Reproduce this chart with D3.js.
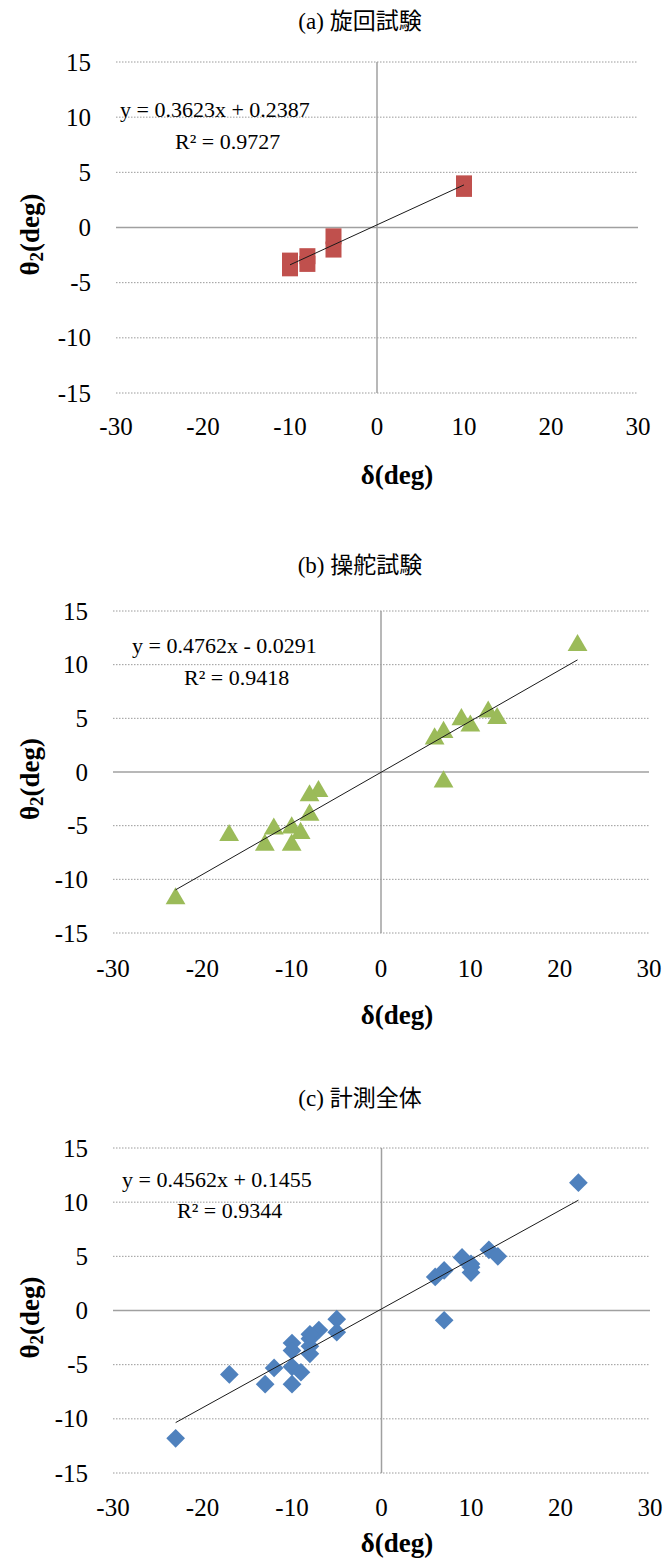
<!DOCTYPE html>
<html>
<head>
<meta charset="utf-8">
<script src="https://cdn.jsdelivr.net/npm/d3@7"></script>
<style>
  body { margin: 0; background: #fff; }
  text { font-family: "Liberation Serif", "Noto Sans CJK JP", serif; fill: #000; }
</style>
</head>
<body>
<div id="chart"></div>
<script>
// Data:
// (a) turning test
var turnDelta = [-10, -10, -8, -8, -5, -5, 10, 10];
var turnTheta = [-3.0, -3.7, -2.6, -3.3, -0.8, -2.0, 4.0, 3.5];
// (b) steering test
var helmDelta = [22, 9, 10, 12, 13, 7, 6, 7, -7, -8, -8, -10, -9, -12, -13, -10, -17, -23];
var helmTheta = [11.8, 4.9, 4.3, 5.6, 5.0, 3.7, 3.1, -0.9, -1.8, -2.2, -4.0, -5.2, -5.7, -5.3, -6.8, -6.8, -5.9, -11.8];
// (c) all measurements = (a) + (b)
var allDelta = turnDelta.concat(helmDelta);
var allTheta = turnTheta.concat(helmTheta);

var panelTitles = ["(a) 旋回試験", "(b) 操舵試験", "(c) 計測全体"];
var fitSlope = [0.3623, 0.4762, 0.4562];
var fitIntercept = [0.2387, -0.0291, 0.1455];
var fitEquation = ["y = 0.3623x + 0.2387", "y = 0.4762x - 0.0291", "y = 0.4562x + 0.1455"];
var fitR2 = ["R² = 0.9727", "R² = 0.9418", "R² = 0.9344"];
var xTicks = [-30, -20, -10, 0, 10, 20, 30];
var yTicks = [-15, -10, -5, 0, 5, 10, 15];

// Layout of the three panels (pixels)
var panels = [
  { delta: turnDelta, theta: turnTheta, marker: "square", color: "#C0504D",
    left: 116, right: 638, top: 62, bottom: 393, titleY: 21, tickY: 426, xTitleY: 475,
    eq: [120, 117], r2: [175, 149] },
  { delta: helmDelta, theta: helmTheta, marker: "triangle", color: "#9BBB59",
    left: 113, right: 649, top: 611, bottom: 933, titleY: 565, tickY: 968, xTitleY: 1015,
    eq: [132, 653], r2: [184, 685] },
  { delta: allDelta, theta: allTheta, marker: "diamond", color: "#4F81BD",
    left: 113, right: 650, top: 1148, bottom: 1473, titleY: 1098, tickY: 1507, xTitleY: 1543,
    eq: [122, 1187], r2: [177, 1218] }
];

var fmt = function(d) { return d < 0 ? "-" + Math.abs(d) : "" + d; };

var svg = d3.select("#chart").append("svg")
  .attr("width", 667)
  .attr("height", 1560)
  .style("background", "#fff");

panels.forEach(function(p, k) {
  var x = d3.scaleLinear().domain([-30, 30]).range([p.left, p.right]);
  var y = d3.scaleLinear().domain([-15, 15]).range([p.bottom, p.top]);
  var g = svg.append("g");

  // Title
  g.append("text")
    .attr("x", 360).attr("y", p.titleY)
    .attr("text-anchor", "middle").attr("dominant-baseline", "central")
    .style("font-size", "23px")
    .text(panelTitles[k]);

  // Horizontal gridlines (dotted), zero line solid
  g.selectAll("line.grid")
    .data(yTicks)
    .enter().append("line")
    .attr("class", "grid")
    .attr("x1", p.left).attr("x2", p.right)
    .attr("y1", function(d) { return y(d); })
    .attr("y2", function(d) { return y(d); })
    .attr("stroke", function(d) { return d === 0 ? "#a0a0a0" : "#9a9a9a"; })
    .attr("stroke-width", function(d) { return d === 0 ? 1.5 : 1; })
    .attr("stroke-dasharray", function(d) { return d === 0 ? null : "1.5,1.5"; });

  // Vertical axis at delta = 0
  g.append("line")
    .attr("x1", x(0)).attr("x2", x(0))
    .attr("y1", y(15)).attr("y2", y(-15))
    .attr("stroke", "#a0a0a0").attr("stroke-width", 1.5);

  // Tick labels
  g.selectAll("text.ytick")
    .data(yTicks)
    .enter().append("text")
    .attr("class", "ytick")
    .attr("x", p.left - 25)
    .attr("y", function(d) { return y(d); })
    .attr("text-anchor", "end").attr("dominant-baseline", "central")
    .style("font-size", "25px")
    .text(fmt);

  g.selectAll("text.xtick")
    .data(xTicks)
    .enter().append("text")
    .attr("class", "xtick")
    .attr("x", function(d) { return x(d); })
    .attr("y", p.tickY)
    .attr("text-anchor", "middle").attr("dominant-baseline", "central")
    .style("font-size", "25px")
    .text(fmt);

  // Axis titles
  g.append("text")
    .attr("x", 397).attr("y", p.xTitleY)
    .attr("text-anchor", "middle").attr("dominant-baseline", "central")
    .style("font-size", "27px").style("font-weight", "bold")
    .text("δ(deg)");

  var yt = g.append("text")
    .attr("transform", "translate(30," + ((p.top + p.bottom) / 2 + 7) + ") rotate(-90)")
    .attr("text-anchor", "middle").attr("dominant-baseline", "central")
    .style("font-size", "27px").style("font-weight", "bold");
  yt.append("tspan").text("θ");
  yt.append("tspan").attr("dy", 6).style("font-size", "19px").text("2");
  yt.append("tspan").attr("dy", -6).text("(deg)");

  // Markers
  var pts = p.delta.map(function(d, i) { return [d, p.theta[i]]; });
  var sym = p.marker === "triangle" ? d3.symbol().type(d3.symbolTriangle).size(170)
          : p.marker === "diamond" ? d3.symbol().type(d3.symbolSquare).size(175)
          : d3.symbol().type(d3.symbolSquare).size(256);
  g.selectAll("path.pt")
    .data(pts)
    .enter().append("path")
    .attr("class", "pt")
    .attr("d", sym)
    .attr("fill", p.color)
    .attr("transform", function(d) {
      return "translate(" + x(d[0]) + "," + y(d[1]) + ")" + (p.marker === "diamond" ? " rotate(45)" : "");
    });

  // Linear trendline over the data range
  var xMin = d3.min(p.delta), xMax = d3.max(p.delta);
  var fit = function(v) { return fitSlope[k] * v + fitIntercept[k]; };
  g.append("line")
    .attr("x1", x(xMin)).attr("y1", y(fit(xMin)))
    .attr("x2", x(xMax)).attr("y2", y(fit(xMax)))
    .attr("stroke", "#1a1a1a").attr("stroke-width", 1);

  // Trendline label
  g.append("text")
    .attr("x", p.eq[0]).attr("y", p.eq[1])
    .style("font-size", "22px")
    .text(fitEquation[k]);
  g.append("text")
    .attr("x", p.r2[0]).attr("y", p.r2[1])
    .style("font-size", "22px")
    .text(fitR2[k]);
});
</script>
</body>
</html>
